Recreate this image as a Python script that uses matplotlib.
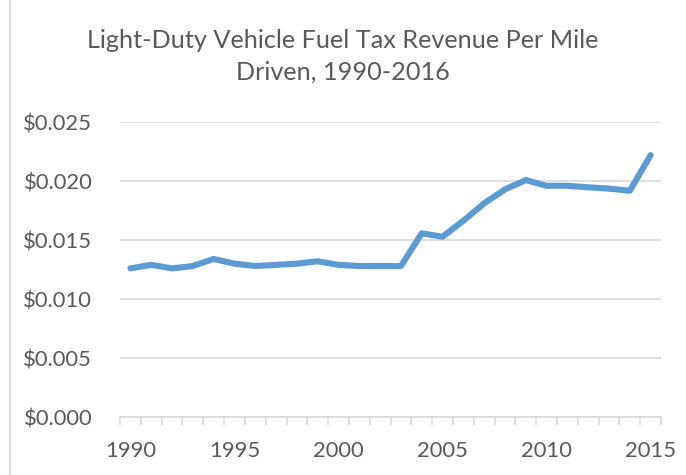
import matplotlib
matplotlib.use("Agg")
import matplotlib.pyplot as plt
from matplotlib.lines import Line2D
import numpy as np

# fuel tax revenue per mile
years = list(range(1990, 2016))
revenue = [0.0126, 0.0129, 0.0126, 0.0128, 0.0134, 0.0130, 0.0128, 0.0129,
           0.0130, 0.0132, 0.0129, 0.0128, 0.0128, 0.0128, 0.01557, 0.01528,
           0.01664, 0.01811, 0.0193, 0.02008, 0.0196, 0.0196, 0.01947, 0.01936,
           0.01918, 0.0222]
yticks = [0.0, 0.005, 0.010, 0.015, 0.020, 0.025]
xlabels = [1990, 1995, 2000, 2005, 2010, 2015]

plt.rcParams['font.family'] = ['Lato', 'DejaVu Sans']
txt = '#595959'
grid = '#D9D9D9'

fig = plt.figure(figsize=(6.86, 4.75), dpi=100)
ax = fig.add_axes([0.175, 0.122, 0.7886, 0.621])

x = np.arange(len(years))
ax.plot(x, revenue, color='#5B9BD5', lw=4.4, solid_capstyle='round', solid_joinstyle='round')

ax.set_ylim(0, 0.025)
ax.set_xlim(-0.5, len(years) - 0.5)
ax.set_yticks(yticks)
ax.set_yticklabels(['$%.3f' % v for v in yticks])
ax.yaxis.grid(True, color=grid, lw=1.2)
ax.set_axisbelow(True)

pos = [years.index(y) for y in xlabels]
ax.set_xticks(pos)
ax.set_xticklabels([str(y) for y in xlabels])
ax.set_xticks(np.arange(-0.5, len(years)), minor=True)
ax.tick_params(axis='x', which='major', length=0, pad=17, labelsize=15.8, colors=txt)
ax.tick_params(axis='x', which='minor', length=6, color=grid, width=1.2, direction='out')
ax.tick_params(axis='y', length=0, pad=20, labelsize=15.8, colors=txt)

for s in ['top', 'right', 'left']:
    ax.spines[s].set_visible(False)
ax.spines['bottom'].set_color(grid)
ax.spines['bottom'].set_linewidth(1.2)

fig.suptitle('Light-Duty Vehicle Fuel Tax Revenue Per Mile\nDriven, 1990-2016',
             x=0.5, y=0.94, fontsize=18.2, color=txt, linespacing=1.48)

# chart border on the left
fig.add_artist(Line2D([0.015, 0.015], [0, 1], transform=fig.transFigure, color=grid, lw=1.2))

fig.savefig('out.png', dpi=100)
